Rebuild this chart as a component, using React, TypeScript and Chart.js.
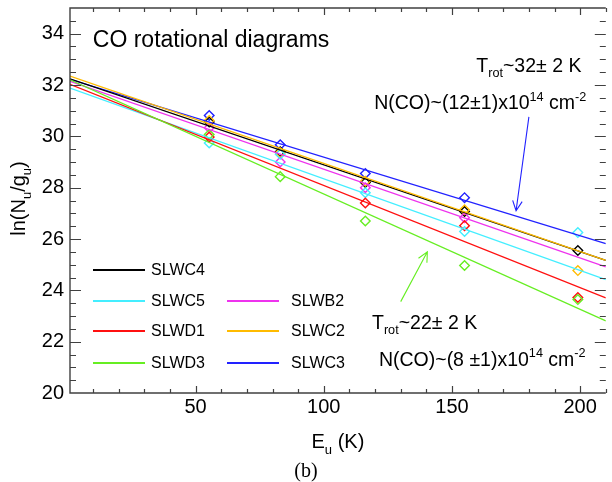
import { useEffect, useRef } from 'react';
import { Chart, registerables } from 'chart.js';

Chart.register(...registerables);

const FONT = '"Liberation Sans", Arial, Helvetica, sans-serif';

// Detectors, in legend order
const detectorNames = ['SLWC4', 'SLWC5', 'SLWD1', 'SLWD3', 'SLWB2', 'SLWC2', 'SLWC3'];
const detectorColors = ['#000000', '#44eeff', '#ff1010', '#66ee22', '#ee33ee', '#ffbb00', '#2222ff'];

// Upper-level energies of the CO transitions (K)
const upperLevelEnergy = [55.3, 83.0, 116.2, 154.9, 199.1];

// ln(N_u/g_u) per detector at each upper-level energy
const lnSLWC4 = [30.56, 29.4, 28.2, 27.07, 25.55];
const lnSLWC5 = [29.74, 29.3, 27.8, 26.29, 26.25];
const lnSLWD1 = [29.97, null, 27.4, 26.52, 23.72];
const lnSLWD3 = [30.07, 28.43, 26.7, 24.97, 23.64];
const lnSLWB2 = [30.33, 29.0, 28.0, 26.83, null];
const lnSLWC2 = [30.62, 29.36, 28.25, 27.14, 24.77];
const lnSLWC3 = [30.81, 29.67, 28.55, 27.61, null];
const detectorValues = [lnSLWC4, lnSLWC5, lnSLWD1, lnSLWD3, lnSLWB2, lnSLWC2, lnSLWC3];

// Rotational-diagram fits: value at the start and end energy
const fitEnergy = [1, 210];
const fitStart = [32.24, 31.88, 32.03, 32.2, 32.14, 32.35, 32.22];
const fitEnd = [25.17, 24.42, 23.71, 22.81, 24.91, 25.17, 25.82];

// Axes
const xRange = [1, 210];
const yRange = [20, 35];
const xTickValues = [50, 100, 150, 200];
const yTickValues = [20, 22, 24, 26, 28, 30, 32, 34];

// Order in which fit lines are stroked (later ones on top)
const lineDrawOrder = [3, 2, 1, 4, 5, 0, 6];

type Seg = { t: string; sub?: boolean; sup?: boolean };

function drawRich(
  ctx: CanvasRenderingContext2D,
  segs: Seg[],
  x: number,
  y: number,
  size: number,
  align: 'left' | 'right' | 'center',
  color: string,
  family = FONT
) {
  const parts = segs.map((s) => {
    const fs = s.sub || s.sup ? size * 0.65 : size;
    ctx.font = `${fs}px ${family}`;
    return { s, fs, w: ctx.measureText(s.t).width };
  });
  const total = parts.reduce((a, p) => a + p.w, 0);
  let cx = align === 'left' ? x : align === 'right' ? x - total : x - total / 2;
  ctx.fillStyle = color;
  ctx.textAlign = 'left';
  ctx.textBaseline = 'alphabetic';
  for (const p of parts) {
    ctx.font = `${p.fs}px ${family}`;
    const dy = p.s.sub ? size * 0.28 : p.s.sup ? -size * 0.42 : 0;
    ctx.fillText(p.s.t, cx, y + dy);
    cx += p.w;
  }
}

const textNotes: { segs: Seg[]; x: number; y: number; align: 'left' | 'right'; size: number }[] = [
  { segs: [{ t: 'CO rotational diagrams' }], x: 9.9, y: 33.5, align: 'left', size: 23 },
  { segs: [{ t: 'T' }, { t: 'rot', sub: true }, { t: '~32± 2 K' }], x: 200.5, y: 32.51, align: 'right', size: 19.5 },
  {
    segs: [{ t: 'N(CO)~(12±1)x10' }, { t: '14', sup: true }, { t: ' cm' }, { t: '-2', sup: true }],
    x: 202.4, y: 31.07, align: 'right', size: 19.5,
  },
  { segs: [{ t: 'T' }, { t: 'rot', sub: true }, { t: '~22± 2 K' }], x: 118.8, y: 22.51, align: 'left', size: 19.5 },
  {
    segs: [{ t: 'N(CO)~(8 ±1)x10' }, { t: '14', sup: true }, { t: ' cm' }, { t: '-2', sup: true }],
    x: 121.5, y: 21.07, align: 'left', size: 19.5,
  },
];

const arrows = [
  { from: [180, 30.76], to: [175, 27.1], color: '#2222ff' },
  { from: [130, 23.56], to: [140.4, 25.5], color: '#66ee22' },
];

// legend slots: [column, row]
const legendSlots = [[0, 0], [0, 1], [0, 2], [0, 3], [1, 1], [1, 2], [1, 3]];

const framePlugin = {
  id: 'idlFrame',
  afterDraw(chart: any) {
    const { ctx, chartArea: a, scales } = chart;
    const x = scales.x;
    const y = scales.y;
    ctx.save();
    ctx.strokeStyle = '#404040';
    ctx.lineWidth = 1.4;
    ctx.beginPath();
    ctx.moveTo(a.right, a.top);
    ctx.lineTo(a.left, a.top);
    ctx.lineTo(a.left, a.bottom);
    ctx.lineTo(a.right, a.bottom);
    ctx.stroke();

    ctx.lineWidth = 1.2;
    ctx.beginPath();
    for (let v = 10; v <= 210; v += 10) {
      const px = Math.round(x.getPixelForValue(v)) + 0.5;
      const len = v % 50 === 0 ? 7 : 4;
      ctx.moveTo(px, a.bottom);
      ctx.lineTo(px, a.bottom - len);
      ctx.moveTo(px, a.top);
      ctx.lineTo(px, a.top + len);
    }
    for (let k = 1; k < 30; k++) {
      const v = 20 + k * 0.5;
      const py = Math.round(y.getPixelForValue(v)) + 0.5;
      const len = v % 2 === 0 ? 11 : 6;
      ctx.moveTo(a.left, py);
      ctx.lineTo(a.left + len, py);
      ctx.moveTo(a.right, py);
      ctx.lineTo(a.right - len, py);
    }
    ctx.stroke();

    // axis titles
    drawRich(ctx, [{ t: 'E' }, { t: 'u', sub: true }, { t: ' (K)' }], (a.left + a.right) / 2, 448, 20, 'center', '#000');
    ctx.save();
    ctx.translate(25, (a.top + a.bottom) / 2 - 2);
    ctx.rotate(-Math.PI / 2);
    drawRich(ctx, [{ t: 'ln(N' }, { t: 'u', sub: true }, { t: '/g' }, { t: 'u', sub: true }, { t: ')' }], 0, 0, 20, 'center', '#000');
    ctx.restore();
    drawRich(ctx, [{ t: '(b)' }], 306, 477, 20, 'center', '#000', '"Liberation Serif", "Times New Roman", serif');

    // notes
    for (const n of textNotes) {
      drawRich(ctx, n.segs, x.getPixelForValue(n.x), y.getPixelForValue(n.y), n.size, n.align, '#000');
    }

    // arrows
    for (const ar of arrows) {
      const x0 = x.getPixelForValue(ar.from[0]);
      const y0 = y.getPixelForValue(ar.from[1]);
      const x1 = x.getPixelForValue(ar.to[0]);
      const y1 = y.getPixelForValue(ar.to[1]);
      const ang = Math.atan2(y1 - y0, x1 - x0);
      const hl = 11;
      const spread = 0.45;
      ctx.strokeStyle = ar.color;
      ctx.lineWidth = 1.1;
      ctx.beginPath();
      ctx.moveTo(x0, y0);
      ctx.lineTo(x1, y1);
      ctx.moveTo(x1 - hl * Math.cos(ang - spread), y1 - hl * Math.sin(ang - spread));
      ctx.lineTo(x1, y1);
      ctx.lineTo(x1 - hl * Math.cos(ang + spread), y1 - hl * Math.sin(ang + spread));
      ctx.stroke();
    }

    // legend
    const colLine = [23, 157];
    const colText = [81, 221];
    const rowY = [262, 293, 323, 355];
    detectorNames.forEach((name, i) => {
      const [c, r] = legendSlots[i];
      const ly = a.top + rowY[r];
      ctx.strokeStyle = detectorColors[i];
      ctx.lineWidth = 2;
      ctx.beginPath();
      ctx.moveTo(a.left + colLine[c], ly);
      ctx.lineTo(a.left + colLine[c] + 52, ly);
      ctx.stroke();
      ctx.fillStyle = '#000';
      ctx.font = `16px ${FONT}`;
      ctx.textAlign = 'left';
      ctx.textBaseline = 'middle';
      ctx.fillText(name, a.left + colText[c], ly + 1);
    });
    ctx.restore();
  },
};

export default function App() {
  const ref = useRef<HTMLCanvasElement | null>(null);

  useEffect(() => {
    if (!ref.current) return;

    const fitSets = lineDrawOrder.map((i) => ({
      label: detectorNames[i] + ' fit',
      data: fitEnergy.map((e, k) => ({ x: e, y: k === 0 ? fitStart[i] : fitEnd[i] })),
      borderColor: detectorColors[i],
      borderWidth: 1.3,
      pointRadius: 0,
      showLine: true,
      fill: false,
    }));

    const pointSets = lineDrawOrder.map((i) => ({
      label: detectorNames[i],
      data: upperLevelEnergy
        .map((e, k) => ({ x: e, y: detectorValues[i][k] }))
        .filter((p) => p.y !== null),
      showLine: false,
      borderColor: detectorColors[i],
      pointStyle: 'rectRot',
      pointRadius: 4.8,
      pointBorderWidth: 1.4,
      pointBorderColor: detectorColors[i],
      pointBackgroundColor: 'rgba(0,0,0,0)',
    }));

    const tickFont = { family: FONT, size: 20 };

    const chart = new Chart(ref.current, {
      type: 'line',
      data: { datasets: [...fitSets, ...pointSets] as any },
      options: {
        animation: false,
        responsive: false,
        devicePixelRatio: 1,
        layout: { padding: { top: 8, left: 0, right: 0, bottom: 0 } },
        plugins: {
          legend: { display: false },
          tooltip: { enabled: false },
          title: { display: false },
        },
        scales: {
          x: {
            type: 'linear',
            min: xRange[0],
            max: xRange[1],
            grid: { display: false, drawTicks: false },
            border: { display: false },
            ticks: { font: tickFont, color: '#000', padding: 2, maxRotation: 0, autoSkip: false },
            afterBuildTicks: (s: any) => {
              s.ticks = xTickValues.map((v) => ({ value: v }));
            },
            afterFit: (s: any) => {
              s.height = 89;
              s.paddingLeft = 0;
              s.paddingRight = 0;
              s.paddingTop = 0;
              s.paddingBottom = 0;
            },
          },
          y: {
            type: 'linear',
            min: yRange[0],
            max: yRange[1],
            grid: { display: false, drawTicks: false },
            border: { display: false },
            ticks: { font: tickFont, color: '#000', padding: 6, autoSkip: false },
            afterBuildTicks: (s: any) => {
              s.ticks = yTickValues.map((v) => ({ value: v }));
            },
            afterFit: (s: any) => {
              s.width = 70;
              s.paddingLeft = 0;
              s.paddingRight = 0;
              s.paddingTop = 0;
              s.paddingBottom = 0;
            },
          },
        },
      } as any,
      plugins: [framePlugin],
    });

    return () => chart.destroy();
  }, []);

  return (
    <div style={{ position: 'absolute', left: 0, top: 0, width: 612, height: 482, background: '#fff' }}>
      <canvas ref={ref} width={612} height={482} style={{ display: 'block' }} />
    </div>
  );
}
